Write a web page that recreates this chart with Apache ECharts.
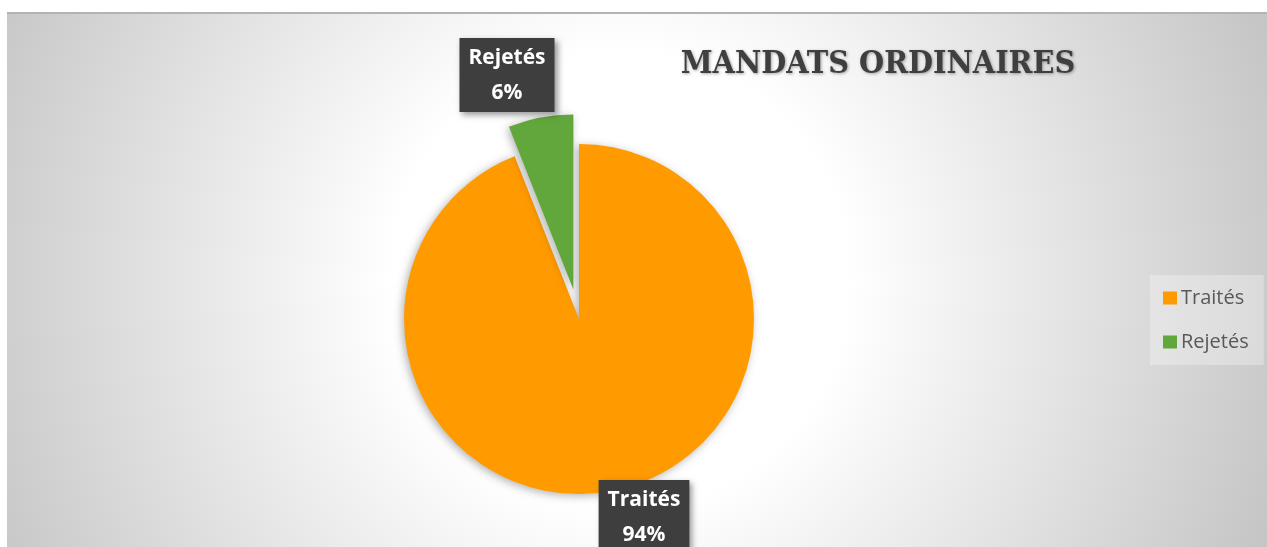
<!DOCTYPE html>
<html>
<head>
<meta charset="utf-8">
<script src="https://cdn.jsdelivr.net/npm/echarts@6/dist/echarts.min.js"></script>
<style>
  html, body { margin: 0; padding: 0; background: #fff; }
  #chart { width: 1267px; height: 547px; }
</style>
</head>
<body>
<div id="chart"></div>
<script>
const categories = ["Traités", "Rejetés"];
const values = [94, 6];
const colors = ["#ff9a00", "#62a73b"];
const exploded = ["Rejetés"];
const titleText = "MANDATS ORDINAIRES";

// where the excel callouts sit (center x, top y)
const labelPos = {
  "Traités": { x: 644, y: 480 },
  "Rejetés": { x: 507, y: 38 },
};

const OFFSET = 30;
const total = values.reduce((a, b) => a + b, 0);

// the selected slice moves its label too, so take that shift back out
function explodeShift(i) {
  if (exploded.indexOf(categories[i]) < 0) return [0, 0];
  let before = 0;
  for (let k = 0; k < i; k++) before += values[k];
  const a = ((before + values[i] / 2) / total) * Math.PI * 2; // clockwise from top
  return [Math.sin(a) * OFFSET, -Math.cos(a) * OFFSET];
}

const chart = echarts.init(document.getElementById("chart"));

const option = {
  backgroundColor: "#ffffff",
  animation: false,
  graphic: [
    {
      type: "rect",
      z: -10,
      shape: { x: 7, y: 12, width: 1260, height: 535 },
      style: {
        fill: new echarts.graphic.RadialGradient(620, 280, 760, [
          { offset: 0, color: "#ffffff" },
          { offset: 0.3, color: "#ffffff" },
          { offset: 1, color: "#bdbdbd" },
        ], true),
      },
    },
    {
      type: "rect",
      z: -9,
      shape: { x: 7, y: 12, width: 1260, height: 2 },
      style: { fill: "#b3b3b3" },
    },
  ],
  title: {
    text: titleText,
    left: 873,
    top: 44,
    textAlign: "center",
    textStyle: {
      fontFamily: "DejaVu Serif Condensed, DejaVu Serif, serif",
      fontWeight: "bold",
      fontSize: 32,
      color: "#3f3f3f",
      textShadowColor: "rgba(0,0,0,0.35)",
      textShadowBlur: 3,
      textShadowOffsetX: 1,
      textShadowOffsetY: 1,
    },
  },
  legend: {
    orient: "vertical",
    left: 1150,
    top: 275,
    padding: [13, 15, 13, 13],
    itemGap: 24,
    itemWidth: 14,
    itemHeight: 13,
    icon: "rect",
    backgroundColor: "rgba(255,255,255,0.3)",
    data: categories,
    textStyle: {
      fontFamily: "Open Sans, sans-serif",
      fontSize: 20,
      color: "#595959",
      padding: [0, 0, 0, -1],
    },
  },
  series: [
    {
      type: "pie",
      center: [579, 319],
      radius: 175,
      startAngle: 90,
      clockwise: true,
      selectedMode: "multiple",
      selectedOffset: OFFSET,
      avoidLabelOverlap: false,
      itemStyle: {
        shadowColor: "rgba(0,0,0,0.3)",
        shadowBlur: 8,
        shadowOffsetX: -2,
        shadowOffsetY: 2,
      },
      label: {
        show: true,
        position: "outside",
        formatter: "{t|{b}}\n{t|{d}%}",
        backgroundColor: "#3e3e3e",
        padding: [3, 9, 1, 9],
        shadowColor: "rgba(0,0,0,0.4)",
        shadowBlur: 6,
        shadowOffsetX: 3,
        shadowOffsetY: 3,
        rich: {
          t: {
            align: "center",
            color: "#ffffff",
            fontFamily: "Open Sans, sans-serif",
            fontWeight: "bold",
            fontSize: 21,
            lineHeight: 35,
          },
        },
      },
      labelLine: { show: false },
      labelLayout: function (params) {
        const i = params.dataIndex;
        const p = labelPos[categories[i]];
        const r = params.labelRect;
        const s = explodeShift(i);
        return {
          dx: p.x - (r.x + r.width / 2) - s[0],
          dy: p.y - r.y - s[1],
        };
      },
      emphasis: { disabled: true },
      data: categories.map((name, i) => ({
        name: name,
        value: values[i],
        selected: exploded.indexOf(name) >= 0,
        itemStyle: { color: colors[i] },
      })),
    },
  ],
};

chart.setOption(option);
</script>
</body>
</html>
